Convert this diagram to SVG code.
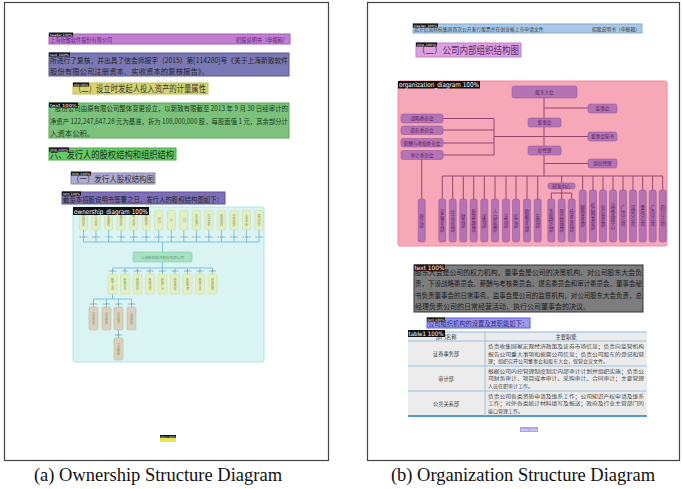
<svg xmlns="http://www.w3.org/2000/svg" width="683" height="489" viewBox="0 0 683 489">
<style>
.cn{font-family:"Noto Sans CJK SC","Noto Sans",sans-serif;}
.lbl{font-family:"DejaVu Sans",sans-serif;fill:#fff;}
.lb{fill:#111;}
.cap{font-family:"Liberation Serif",serif;font-size:18.5px;fill:#111;text-anchor:middle;}
.vt{font-family:"Noto Sans CJK SC",sans-serif;writing-mode:vertical-rl;text-anchor:middle;}
.ob{fill:#e4efc4;stroke:#cddda4;stroke-width:0.6;}
.os{fill:#d9d1bd;stroke:#c4bca6;stroke-width:0.6;}
.ol{stroke:#74bcd8;stroke-width:0.9;fill:none;}
.pc{font-family:"DejaVu Sans",sans-serif;font-size:2.6px;fill:#6a8a9a;text-anchor:middle;}
.ot{font-size:3px;fill:#8a9a60;}
.gb{fill:#b473b4;stroke:#9a5a9a;stroke-width:0.6;}
.gl{stroke:#8a3a66;stroke-width:0.9;fill:none;}
.gt{font-size:4.6px;fill:#5a1f5a;text-anchor:middle;}
.gv{font-size:4.4px;fill:#5a1f5a;}
</style>

<!-- panel frames -->
<rect x="4.5" y="2.5" width="324" height="458" fill="#fff" stroke="#444" stroke-width="1.2"/>
<rect x="367.5" y="2.5" width="312" height="458" fill="#fff" stroke="#444" stroke-width="1.2"/>
<text class="cap" x="158" y="481">(a) Ownership Structure Diagram</text>
<text class="cap" x="523" y="481">(b) Organization Structure Diagram</text>

<!-- ===== LEFT PANEL ===== -->
<g id="a-header">
<rect x="49" y="34" width="241" height="10" fill="#c27fd2" stroke="#a45ab8" stroke-width="1"/>
<text class="cn" x="50" y="42" font-size="5.2" fill="#5a1a7a">上海新致软件股份有限公司</text>
<text class="cn" x="288" y="42" font-size="5.2" fill="#5a1a7a" text-anchor="end">招股说明书（申报稿）</text>
<rect class="lb" x="49" y="32.5" width="24" height="4"/>
<text class="lbl" x="50" y="35.7" font-size="3.2" textLength="22" lengthAdjust="spacingAndGlyphs">header 100%</text>
</g>

<g id="a-text1">
<rect x="49" y="53" width="240" height="23" fill="#7b78b6" stroke="#5a5796" stroke-width="1"/>
<text class="cn" x="50" y="63" font-size="7.4" fill="#222" textLength="238" lengthAdjust="spacingAndGlyphs">所进行了复核，并出具了信会师报字（2015）第[114280]号《关于上海新致软件</text>
<text class="cn" x="50" y="74" font-size="7.4" fill="#222">股份有限公司注册资本、实收资本的复核报告》。</text>
<rect class="lb" x="49" y="52.5" width="21" height="4"/>
<text class="lbl" x="50" y="55.7" font-size="3.2" textLength="19" lengthAdjust="spacingAndGlyphs">text 100%</text>
</g>

<g id="a-title1">
<rect x="73" y="83" width="135" height="11" fill="#d7d56e" stroke="#bfbd50" stroke-width="1"/>
<text class="cn" x="74" y="92.2" font-size="9" fill="#333" textLength="132" lengthAdjust="spacingAndGlyphs">（二）设立时发起人投入资产的计量属性</text>
<rect class="lb" x="73" y="82.5" width="16" height="4"/>
<text class="lbl" x="74" y="85.7" font-size="3" textLength="14" lengthAdjust="spacingAndGlyphs">title 100%</text>
</g>

<g id="a-text2">
<rect x="49" y="103" width="240" height="35" fill="#7cc27c" stroke="#5aa65a" stroke-width="1"/>
<text class="cn" x="55" y="111" font-size="7.4" fill="#1a3a1a" textLength="233" lengthAdjust="spacingAndGlyphs">股份公司由原有限公司整体变更设立，以新致有限截至 2013 年 9 月 30 日经审计的</text>
<text class="cn" x="50" y="123.5" font-size="7.4" fill="#1a3a1a" textLength="238" lengthAdjust="spacingAndGlyphs">净资产 122,247,647.28 元为基准，折为 108,000,000 股，每股面值 1 元，其余部分计</text>
<text class="cn" x="50" y="136" font-size="7.4" fill="#1a3a1a">入资本公积。</text>
<rect class="lb" x="49" y="102.5" width="29" height="5"/>
<text class="lbl" x="50" y="106.5" font-size="4.2" textLength="27" lengthAdjust="spacingAndGlyphs">text 100%</text>
</g>

<g id="a-title2">
<rect x="49" y="148" width="127" height="12" fill="#66c866" stroke="#4aac4a" stroke-width="1"/>
<text class="cn" x="50" y="158" font-size="9.5" fill="#123312" textLength="124" lengthAdjust="spacingAndGlyphs">六、发行人的股权结构和组织结构</text>
<rect class="lb" x="49" y="147.5" width="20" height="4"/>
<text class="lbl" x="50" y="150.7" font-size="3" textLength="18" lengthAdjust="spacingAndGlyphs">title 100%</text>
</g>

<g id="a-title3">
<rect x="71" y="173" width="84" height="11" fill="#aeaad0" stroke="#8a86b0" stroke-width="1"/>
<text class="cn" x="72" y="182" font-size="8.5" fill="#333" textLength="82" lengthAdjust="spacingAndGlyphs">（一）发行人股权结构图</text>
<rect class="lb" x="71" y="171.5" width="20" height="4"/>
<text class="lbl" x="72" y="174.7" font-size="3" textLength="18" lengthAdjust="spacingAndGlyphs">title 100%</text>
</g>

<g id="a-text3">
<rect x="62" y="192" width="163" height="12" fill="#7e70b8" stroke="#5e5098" stroke-width="1"/>
<text class="cn" x="63" y="201.5" font-size="7.4" fill="#222" textLength="160" lengthAdjust="spacingAndGlyphs">截至本招股说明书签署之日，发行人的股权结构图如下：</text>
<rect class="lb" x="62" y="191.5" width="19" height="4"/>
<text class="lbl" x="63" y="194.7" font-size="3" textLength="17" lengthAdjust="spacingAndGlyphs">text 100%</text>
</g>

<g id="a-ownership">
<rect x="73" y="207" width="191" height="155" rx="2" fill="#d9f4f3" stroke="#b5e3e3" stroke-width="1"/>
<g id="own-connectors">
<path class="ol" d="M83.5,230V242M96,230V242M108.6,230V242M121.1,230V242M133.7,230V242M146.2,230V242M158.7,230V242M171.3,230V242M183.8,230V242M196.4,230V242M208.9,230V242M221.4,230V242M234,230V242M246.5,230V242M259,230V242M83.5,242H259M162.5,242V252"/>
<path class="ol" d="M162.5,262V268M112.5,268H212.5M112.5,268V274M125,268V274M137.5,268V274M150,268V274M162.5,268V274M175,268V274M187.5,268V274M200,268V274M212.5,268V274"/>
<path class="ol" d="M112.5,294V299M93.5,299H131.5M93.5,299V307M106.5,299V307M118.5,299V307M131.5,299V307M118.5,330V338"/>
</g>
<g id="own-pcts">
<text class="pc" x="83.5" y="237.5">9.34%</text><text class="pc" x="96" y="237.5">9.93%</text><text class="pc" x="108.6" y="237.5">7.73%</text><text class="pc" x="121.1" y="237.5">7.93%</text><text class="pc" x="133.7" y="237.5">6.89%</text><text class="pc" x="146.2" y="237.5">6.89%</text><text class="pc" x="158.7" y="237.5">3.51%</text><text class="pc" x="171.3" y="237.5">2.76%</text><text class="pc" x="183.8" y="237.5">2.54%</text><text class="pc" x="196.4" y="237.5">0.73%</text><text class="pc" x="208.9" y="237.5">2.98%</text><text class="pc" x="221.4" y="237.5">3.36%</text><text class="pc" x="234" y="237.5">3.36%</text><text class="pc" x="246.5" y="237.5">2.74%</text><text class="pc" x="259" y="237.5">4.72%</text>
<text class="pc" x="112.5" y="272">100%</text><text class="pc" x="125" y="272">70%</text><text class="pc" x="137.5" y="272">100%</text><text class="pc" x="150" y="272">100%</text><text class="pc" x="162.5" y="272">100%</text><text class="pc" x="175" y="272">100%</text><text class="pc" x="187.5" y="272">100%</text><text class="pc" x="200" y="272">100%</text><text class="pc" x="212.5" y="272">100%</text>
<text class="pc" x="93.5" y="304.5">100%</text><text class="pc" x="106.5" y="304.5">100%</text><text class="pc" x="118.5" y="304.5">100%</text><text class="pc" x="131.5" y="304.5">100%</text><text class="pc" x="118.5" y="335.5">100%</text>
</g>
<g id="own-top">
<rect class="ob" x="79.5" y="210.5" width="8" height="19.5" rx="1.5"/><text class="vt ot" x="83.5" y="220">新致投资</text>
<rect class="ob" x="92" y="210.5" width="8" height="19.5" rx="1.5"/><text class="vt ot" x="96" y="220">中小企业</text>
<rect class="ob" x="104.6" y="210.5" width="8" height="19.5" rx="1.5"/><text class="vt ot" x="108.6" y="220">上海嵘和</text>
<rect class="ob" x="117.1" y="210.5" width="8" height="19.5" rx="1.5"/><text class="vt ot" x="121.1" y="220">富欣投资</text>
<rect class="ob" x="129.7" y="210.5" width="8" height="19.5" rx="1.5"/><text class="vt ot" x="133.7" y="220">金华投资</text>
<rect class="ob" x="142.2" y="210.5" width="8" height="19.5" rx="1.5"/><text class="vt ot" x="146.2" y="220">新致软件</text>
<rect class="ob" x="154.7" y="210.5" width="8" height="19.5" rx="1.5"/><text class="vt ot" x="158.7" y="220">DCB</text>
<rect class="ob" x="167.3" y="210.5" width="8" height="19.5" rx="1.5"/><text class="vt ot" x="171.3" y="220">AI</text>
<rect class="ob" x="179.8" y="210.5" width="8" height="19.5" rx="1.5"/><text class="vt ot" x="183.8" y="220">CTI</text>
<rect class="ob" x="192.4" y="210.5" width="8" height="19.5" rx="1.5"/><text class="vt ot" x="196.4" y="220">日本株式</text>
<rect class="ob" x="204.9" y="210.5" width="8" height="19.5" rx="1.5"/><text class="vt ot" x="208.9" y="220">杭州高新</text>
<rect class="ob" x="217.4" y="210.5" width="8" height="19.5" rx="1.5"/><text class="vt ot" x="221.4" y="220">启迪创投</text>
<rect class="ob" x="230" y="210.5" width="8" height="19.5" rx="1.5"/><text class="vt ot" x="234" y="220">中新创投</text>
<rect class="ob" x="242.5" y="210.5" width="8" height="19.5" rx="1.5"/><text class="vt ot" x="246.5" y="220">上海中新</text>
<rect class="ob" x="255" y="210.5" width="8" height="19.5" rx="1.5"/><text class="vt ot" x="259" y="220">德华投资</text>
</g>
<g id="own-center">
<rect x="133" y="252" width="59" height="10" rx="1.5" fill="#a9e2c2" stroke="#8ccfa8" stroke-width="0.6"/>
<text class="cn" x="162.5" y="258.6" font-size="3.6" fill="#5a9a7a" text-anchor="middle">上海新致软件股份有限公司</text>
</g>
<g id="own-subs">
<rect class="ob" x="108" y="274" width="9" height="20" rx="1.5"/><text class="vt ot" x="112.5" y="284">数字上海</text>
<rect class="ob" x="120.5" y="274" width="9" height="20" rx="1.5"/><text class="vt ot" x="125" y="284">新致日本</text>
<rect class="ob" x="133" y="274" width="9" height="20" rx="1.5"/><text class="vt ot" x="137.5" y="284">新致科技</text>
<rect class="ob" x="145.5" y="274" width="9" height="20" rx="1.5"/><text class="vt ot" x="150" y="284">新致北京</text>
<rect class="ob" x="158" y="274" width="9" height="20" rx="1.5"/><text class="vt ot" x="162.5" y="284">新致广州</text>
<rect class="ob" x="170.5" y="274" width="9" height="20" rx="1.5"/><text class="vt ot" x="175" y="284">新致西安</text>
<rect class="ob" x="183" y="274" width="9" height="20" rx="1.5"/><text class="vt ot" x="187.5" y="284">新致香港</text>
<rect class="ob" x="195.5" y="274" width="9" height="20" rx="1.5"/><text class="vt ot" x="200" y="284">新致大连</text>
<rect class="ob" x="208" y="274" width="9" height="20" rx="1.5"/><text class="vt ot" x="212.5" y="284">新致成都</text>
</g>
<g id="own-subsubs">
<rect class="os" x="89" y="307" width="9" height="23" rx="1.5"/><text class="vt ot" x="93.5" y="318.5" fill="#8a7a5a">日本百惠</text>
<rect class="os" x="102" y="307" width="9" height="23" rx="1.5"/><text class="vt ot" x="106.5" y="318.5" fill="#8a7a5a">日本新致</text>
<rect class="os" x="114" y="307" width="9" height="23" rx="1.5"/><text class="vt ot" x="118.5" y="318.5" fill="#8a7a5a">日本株式</text>
<rect class="os" x="127" y="307" width="9" height="23" rx="1.5"/><text class="vt ot" x="131.5" y="318.5" fill="#8a7a5a">上海新致</text>
<rect class="os" x="114" y="338" width="9" height="22" rx="1.5"/><text class="vt ot" x="118.5" y="349" fill="#8a7a5a">大连新致</text>
</g>
<rect class="lb" x="73" y="207" width="76" height="8"/>
<text class="lbl" x="74" y="213.5" font-size="6.6" fill="#ddd" textLength="74" lengthAdjust="spacingAndGlyphs">ownership_diagram 100%</text>
</g>

<g id="a-footer">
<rect x="160" y="435" width="16" height="7" fill="#e8e84a"/>
<rect class="lb" x="160" y="435" width="16" height="3"/>
<text class="lbl" x="160.5" y="437.6" font-size="2.6" textLength="15" lengthAdjust="spacingAndGlyphs">footer 100%</text>
</g>

<!-- ===== RIGHT PANEL ===== -->
<g id="b-header">
<rect x="413" y="24" width="229" height="9" fill="#a9c8e8" stroke="#86aad0" stroke-width="1"/>
<text class="cn" x="414" y="31.3" font-size="4.8" fill="#333">北京信威科技集团首次公开发行股票并在创业板上市申请文件</text>
<text class="cn" x="640" y="31.3" font-size="4.8" fill="#333" text-anchor="end">招股说明书（申报稿）</text>
<rect class="lb" x="413" y="23.5" width="25" height="4"/>
<text class="lbl" x="414" y="26.7" font-size="3" textLength="23" lengthAdjust="spacingAndGlyphs">header 100%</text>
</g>

<g id="b-title">
<rect x="416" y="43" width="105" height="14" fill="#dd9fde" stroke="#c080c4" stroke-width="1"/>
<text class="cn" x="417" y="54.3" font-size="10" fill="#5a2a6a" textLength="102" lengthAdjust="spacingAndGlyphs">（二）公司内部组织结构图</text>
<rect class="lb" x="416" y="42.5" width="21" height="4"/>
<text class="lbl" x="417" y="45.7" font-size="3" textLength="19" lengthAdjust="spacingAndGlyphs">title 100%</text>
</g>

<g id="b-organization">
<rect x="398" y="81" width="269" height="165" rx="2" fill="#f7a8b8" stroke="#f08aa2" stroke-width="1"/>
<g id="org-connectors">
<path class="gl" d="M544,98V176M544,108H588M544,136.5H588M544,163.5H588M443,118.5H494M443,130H494M443,143H494M443,155H494M494,118.5V155M494,136.5H544M421.7,159V199"/>
<path class="gl" d="M442.3,176H662.7M442.3,176V199M452.7,176V199M463.3,176V199M473.7,176V199M484.3,176V199M495,176V199M506,176V199M516,176V199M527,176V199M537.7,176V199M561.7,176V183M561.7,189V193M551.3,193H571.7M551.3,193V199M561.7,193V199M571.7,193V199M582.7,176V190M593,176V190M603,176V190M613,176V190M623,176V190M633,176V190M642.7,176V190M652.7,176V190M662.7,176V190"/>
</g>
<g id="org-main">
<rect class="gb" x="512" y="86" width="65" height="12" rx="2"/><text class="cn gt" x="544.5" y="93.8">股东大会</text>
<rect class="gb" x="588" y="104" width="29" height="9" rx="2"/><text class="cn gt" x="602.5" y="110.3">监事会</text>
<rect class="gb" x="528" y="118" width="33" height="9" rx="2"/><text class="cn gt" x="544.5" y="124.3">董事会</text>
<rect class="gb" x="588" y="132" width="29" height="9" rx="2"/><text class="cn gt" x="602.5" y="138.3">董事会秘书</text>
<rect class="gb" x="528" y="146" width="33" height="9" rx="2"/><text class="cn gt" x="544.5" y="152.3">总经理</text>
<rect class="gb" x="588" y="159" width="29" height="9" rx="2"/><text class="cn gt" x="602.5" y="165.3">副总经理</text>
<rect class="gb" x="401" y="114" width="42" height="9" rx="2"/><text class="cn gt" x="422" y="120.3">战略委员会</text>
<rect class="gb" x="401" y="126" width="42" height="8.5" rx="2"/><text class="cn gt" x="422" y="132">提名委员会</text>
<rect class="gb" x="401" y="138.5" width="42" height="8.5" rx="2"/><text class="cn gt" x="422" y="144.5">薪酬与考核委员会</text>
<rect class="gb" x="401" y="150.5" width="42" height="9" rx="2"/><text class="cn gt" x="422" y="156.8">审计委员会</text>
<rect class="gb" x="548" y="183" width="27" height="6" rx="2"/><text class="cn gt" x="561.5" y="187.6" font-size="4">研发中心</text>
</g>
<g id="org-depts">
<rect class="gb" x="418.2" y="199" width="7" height="43" rx="2"/><text class="vt gv" x="421.7" y="220.5">审计部</text>
<rect class="gb" x="438.8" y="199" width="7" height="43" rx="2"/><text class="vt gv" x="442.3" y="220.5">证券事务部</text>
<rect class="gb" x="449.2" y="199" width="7" height="43" rx="2"/><text class="vt gv" x="452.7" y="220.5">公共关系部</text>
<rect class="gb" x="459.8" y="199" width="7" height="43" rx="2"/><text class="vt gv" x="463.3" y="220.5">财务部</text>
<rect class="gb" x="470.2" y="199" width="7" height="43" rx="2"/><text class="vt gv" x="473.7" y="220.5">质量监督部</text>
<rect class="gb" x="480.8" y="199" width="7" height="43" rx="2"/><text class="vt gv" x="484.3" y="220.5">采购部</text>
<rect class="gb" x="491.5" y="199" width="7" height="43" rx="2"/><text class="vt gv" x="495" y="220.5">人力资源部</text>
<rect class="gb" x="502.5" y="199" width="7" height="43" rx="2"/><text class="vt gv" x="506" y="220.5">法务部</text>
<rect class="gb" x="512.5" y="199" width="7" height="43" rx="2"/><text class="vt gv" x="516" y="220.5">综合部</text>
<rect class="gb" x="523.5" y="199" width="7" height="43" rx="2"/><text class="vt gv" x="527" y="220.5">数据业务部</text>
<rect class="gb" x="534.2" y="199" width="7" height="43" rx="2"/><text class="vt gv" x="537.7" y="220.5">市场部</text>
<rect class="gb" x="547.8" y="199" width="7" height="43" rx="2"/><text class="vt gv" x="551.3" y="220.5">系统研究部</text>
<rect class="gb" x="558.2" y="199" width="7" height="43" rx="2"/><text class="vt gv" x="561.7" y="220.5">项目管理部</text>
<rect class="gb" x="568.2" y="199" width="7" height="43" rx="2"/><text class="vt gv" x="571.7" y="220.5">技术支持部</text>
<rect class="gb" x="579.2" y="190" width="7" height="52" rx="2"/><text class="vt gv" x="582.7" y="216">网络事业部</text>
<rect class="gb" x="589.5" y="190" width="7" height="52" rx="2"/><text class="vt gv" x="593" y="216">核心网事业部</text>
<rect class="gb" x="599.5" y="190" width="7" height="52" rx="2"/><text class="vt gv" x="603" y="216">电信事业部</text>
<rect class="gb" x="609.5" y="190" width="7" height="52" rx="2"/><text class="vt gv" x="613" y="216">运营管理中心</text>
<rect class="gb" x="619.5" y="190" width="7" height="52" rx="2"/><text class="vt gv" x="623" y="216">广州分公司</text>
<rect class="gb" x="629.5" y="190" width="7" height="52" rx="2"/><text class="vt gv" x="633" y="216">深圳分公司</text>
<rect class="gb" x="639.2" y="190" width="7" height="52" rx="2"/><text class="vt gv" x="642.7" y="216">重庆分公司</text>
<rect class="gb" x="649.2" y="190" width="7" height="52" rx="2"/><text class="vt gv" x="652.7" y="216">广西分公司</text>
<rect class="gb" x="659.2" y="190" width="7" height="52" rx="2"/><text class="vt gv" x="662.7" y="216">四川分公司</text>
</g>
<rect class="lb" x="398" y="81" width="82" height="7.5"/>
<text class="lbl" x="399" y="87.2" font-size="6.6" fill="#ddd" textLength="80" lengthAdjust="spacingAndGlyphs">organization_diagram 100%</text>
</g>

<g id="b-text">
<rect x="414" y="265" width="229" height="47" fill="#7d7d7d" stroke="#333" stroke-width="1"/>
<text class="cn" x="415" y="275" font-size="7" fill="#1a1a1a" textLength="227" lengthAdjust="spacingAndGlyphs">股东大会是公司的权力机构，董事会是公司的决策机构，对公司股东大会负</text>
<text class="cn" x="415" y="286" font-size="7" fill="#1a1a1a" textLength="227" lengthAdjust="spacingAndGlyphs">责，下设战略委员会、薪酬与考核委员会、提名委员会和审计委员会，董事会秘</text>
<text class="cn" x="415" y="297.5" font-size="7" fill="#1a1a1a" textLength="227" lengthAdjust="spacingAndGlyphs">书负责董事会的日常事务。监事会是公司的监督机构，对公司股东大会负责，总</text>
<text class="cn" x="415" y="309" font-size="7" fill="#1a1a1a">经理负责公司的日常经营活动，执行公司董事会的决议。</text>
<rect x="414" y="264.5" width="31" height="6.5" fill="#2a0a0a"/>
<text class="lbl" x="414.5" y="270" font-size="6" fill="#e02828" textLength="30" lengthAdjust="spacingAndGlyphs">text 100%</text>
</g>

<g id="b-subtitle">
<rect x="427" y="318" width="103" height="10" fill="#9c9ae8" stroke="#5c5ce8" stroke-width="1"/>
<text class="cn" x="428" y="326" font-size="7" fill="#2a2a8a" textLength="100" lengthAdjust="spacingAndGlyphs">公司组织机构的设置及其职能如下：</text>
<rect class="lb" x="427" y="317.5" width="18" height="4"/>
<text class="lbl" x="427.5" y="320.7" font-size="3" textLength="17" lengthAdjust="spacingAndGlyphs">text 100%</text>
</g>

<g id="b-table">
<rect x="408" y="332" width="239" height="84" fill="#ececec"/>
<line x1="408" y1="332" x2="647" y2="332" stroke="#8ab8d8" stroke-width="1"/>
<line x1="408" y1="341" x2="647" y2="341" stroke="#8ab8d8" stroke-width="0.8"/>
<line x1="408" y1="366" x2="647" y2="366" stroke="#8ab8d8" stroke-width="0.8"/>
<line x1="408" y1="391" x2="647" y2="391" stroke="#8ab8d8" stroke-width="0.8"/>
<line x1="408" y1="416" x2="647" y2="416" stroke="#5a9ac8" stroke-width="2"/>
<line x1="485" y1="332" x2="485" y2="416" stroke="#8ab8d8" stroke-width="0.8"/>
<text class="cn" x="446" y="339.3" font-size="5.2" fill="#333" text-anchor="middle">部门名称</text>
<text class="cn" x="566" y="339.3" font-size="5.2" fill="#333" text-anchor="middle">主要职能</text>
<text class="cn" x="446" y="356" font-size="5.2" fill="#333" text-anchor="middle">证券事务部</text>
<text class="cn" x="446" y="381" font-size="5.2" fill="#333" text-anchor="middle">审计部</text>
<text class="cn" x="446" y="406" font-size="5.2" fill="#333" text-anchor="middle">公共关系部</text>
<g class="cn" font-size="5" fill="#444">
<text x="488" y="348" textLength="156" lengthAdjust="spacingAndGlyphs">负责收集国家宏观经济政策及证券市场信息；负责向监管机构</text>
<text x="488" y="355.5" textLength="156" lengthAdjust="spacingAndGlyphs">报告公司重大事项和披露公司信息；负责公司股东的登记和管</text>
<text x="488" y="363">理；组织召开公司董事会和股东大会，保管会议文件。</text>
<text x="488" y="372.5" textLength="156" lengthAdjust="spacingAndGlyphs">根据公司内控管理制度制定内部审计计划并组织实施；负责公</text>
<text x="488" y="380" textLength="156" lengthAdjust="spacingAndGlyphs">司财务审计、项目成本审计、采购审计、合同审计；主要管理</text>
<text x="488" y="387.5">人员任职审计工作。</text>
<text x="488" y="397.5" textLength="156" lengthAdjust="spacingAndGlyphs">负责公司各类资质申请及维系工作；公司知识产权申请及维系</text>
<text x="488" y="405" textLength="156" lengthAdjust="spacingAndGlyphs">工作；对外各类统计材料填写及报送；政府及行业主管部门的</text>
<text x="488" y="412.5">接口管理工作。</text>
</g>
<rect class="lb" x="408" y="330" width="37" height="7"/>
<text class="lbl" x="408.5" y="335.8" font-size="6" fill="#ddd" textLength="35" lengthAdjust="spacingAndGlyphs">table1 100%</text>
</g>

<g id="b-footer">
<rect x="520" y="427" width="18" height="5" fill="#a6a4e4"/>
<text class="lbl" x="521" y="430.6" font-size="3" fill="#334" textLength="16" lengthAdjust="spacingAndGlyphs">footer 100%</text>
</g>
</svg>
